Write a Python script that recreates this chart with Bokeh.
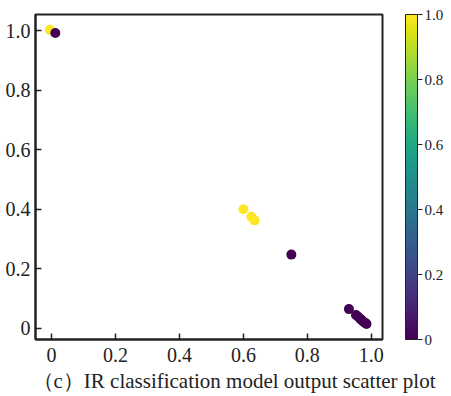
from bokeh.plotting import figure
from bokeh.models import (ColumnDataSource, LinearColorMapper, ColorBar, FixedTicker, Range1d, Title)
from bokeh.palettes import Viridis256
from bokeh.transform import linear_cmap
from bokeh.embed import file_html
from bokeh.resources import INLINE

# data
x_vals = [-0.005, 0.012, 0.60, 0.625, 0.635, 0.75, 0.93, 0.952, 0.958, 0.965, 0.97, 0.976, 0.982, 0.985]
y_vals = [1.003, 0.992, 0.40, 0.375, 0.363, 0.248, 0.065, 0.045, 0.04, 0.033, 0.028, 0.022, 0.018, 0.015]
labels = [1, 0, 1, 1, 1, 0, 0, 0, 0, 0, 0, 0, 0, 0]
tick_vals = [0, 0.2, 0.4, 0.6, 0.8, 1.0]
tick_labels = ["0", "0.2", "0.4", "0.6", "0.8", "1.0"]
caption = "（c）IR classification model output scatter plot"

FONT = "'Liberation Serif', 'Times New Roman', serif"

src = ColumnDataSource(dict(x=x_vals, y=y_vals, label=labels))

p = figure(width=451, height=396, output_backend="svg", toolbar_location=None,
           x_range=Range1d(-0.05, 1.035), y_range=Range1d(-0.037, 1.054),
           min_border_left=35, min_border_right=69, min_border_top=14, min_border_bottom=57)

p.scatter("x", "y", source=src, size=10, line_color=None,
          fill_color=linear_cmap("label", Viridis256, 0, 1))

p.xgrid.visible = False
p.ygrid.visible = False
p.outline_line_color = "#222222"
p.outline_line_width = 2
p.background_fill_color = "white"
p.border_fill_color = "white"

lbl = {v: t for v, t in zip(tick_vals, tick_labels)}
for ax in (p.xaxis[0], p.yaxis[0]):
    ax.ticker = FixedTicker(ticks=tick_vals)
    ax.major_label_overrides = lbl
    ax.major_tick_in = 6
    ax.major_tick_out = 0
    ax.minor_tick_line_color = None
    ax.axis_line_color = "#222222"
    ax.axis_line_width = 2
    ax.major_tick_line_color = "#222222"
    ax.major_tick_line_width = 1.5
    ax.major_label_text_font = FONT
    ax.major_label_text_font_size = "20px"
    ax.major_label_text_color = "#222222"
    ax.major_label_standoff = 5
p.xaxis[0].major_label_standoff = 8

mapper = LinearColorMapper(palette=Viridis256, low=0, high=1)
cb = ColorBar(color_mapper=mapper, ticker=FixedTicker(ticks=tick_vals),
              major_label_overrides=lbl, width=12, padding=0, margin=0,
              location=(23, 0),
              major_tick_in=0, major_tick_out=5, major_tick_line_color="#222222",
              bar_line_color="#222222", bar_line_width=1,
              major_label_text_font=FONT, major_label_text_font_size="15px",
              major_label_text_color="#222222", label_standoff=2,
              border_line_color=None, background_fill_color=None)
p.add_layout(cb, "right")

t = Title(text=caption, align="left", offset=-3, text_font=FONT, text_font_size="21px",
          text_font_style="normal", text_color="#222222", standoff=4)
p.add_layout(t, "below")

open("out.html", "w").write(file_html(p, INLINE))
